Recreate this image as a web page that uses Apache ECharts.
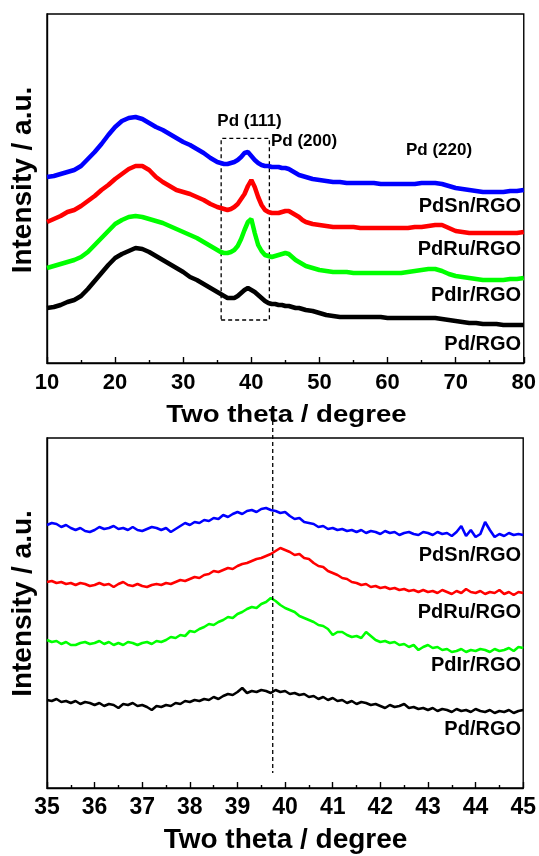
<!DOCTYPE html>
<html>
<head>
<meta charset="utf-8">
<script src="https://cdn.jsdelivr.net/npm/echarts@6.0.0/dist/echarts.min.js"></script>
<style>
  html, body { margin: 0; padding: 0; background: #ffffff; }
  #chart { width: 539px; height: 856px; }
</style>
</head>
<body>
<div id="chart"></div>
<script>
// ---- Wide-angle XRD scans (2θ = 10–80°) ----
const topX = [10,11,12,13,14,15,16,17,18,19,20,21,22,23,24,25,26,27,28,29,30,31,32,33,34,35,
  35.5,36,36.5,37,37.5,38,38.5,39,39.5,40,40.5,41,41.5,42,42.5,43,43.5,44,44.5,45,45.5,46,46.5,47,47.5,48,
  49,50,51,52,53,54,55,56,57,58,59,60,61,62,63,64,65,66,67,68,69,70,71,72,73,74,75,76,77,78,79,80];

const topPdSn = [186,187,189,191,193,197,204,211,219,228,236,242,245,246,244,240,236,233,229,225,221,218,214,210,205,201,
  200,199,199,200,201,203,206,210,211,207,203,200,198,197,197,196,196,196,195,195,194,192,190,188,187,186,
  184,183,182,181,181,180,180,180,180,180,179,179,179,179,179,179,180,180,180,179,177,175,174,173,172,171,171,171,171,172,172,173];

const topPdRu = [141,144,147,151,153,157,162,167,173,178,184,189,194,197,197,193,186,181,177,173,171,169,166,163,159,156,
  155,154,153,154,156,159,164,169,177,183,176,166,158,153,151,150,150,150,151,152,152,150,148,146,143,141,
  139,138,137,136,136,136,136,135,135,135,135,135,135,135,135,136,136,137,138,138,135,132,131,130,130,130,130,130,130,130,130,131];

const topPdIr = [95,97,99,101,103,106,111,118,125,132,139,143,146,147,146,144,142,140,137,134,131,128,125,121,117,113,
  111,110,110,111,113,117,124,133,141,144,130,118,112,108,107,106,107,108,109,110,109,106,103,101,99,97,
  95,93,92,91,91,91,90,90,90,90,90,90,90,90,91,92,93,94,94,92,89,87,86,85,84,83,83,83,83,84,84,85];

const topPd = [55,56,58,61,63,67,74,82,90,98,105,109,112,115,114,111,107,103,99,95,91,86,83,79,75,71,
  69,67,65,65,65,67,70,73,75,73,71,68,65,62,60,59,59,58,58,57,57,56,55,55,54,53,
  52,50,48,47,46,46,46,46,46,46,46,45,45,45,45,45,45,45,45,44,43,42,41,40,40,39,39,39,38,38,38,38];

// ---- Fine scans around the Pd(111) reflection (2θ = 35–45°) ----
const botX = [35.0,35.1,35.2,35.3,35.4,35.5,35.6,35.7,35.8,35.9,
  36.0,36.1,36.2,36.3,36.4,36.5,36.6,36.7,36.8,36.9,
  37.0,37.1,37.2,37.3,37.4,37.5,37.6,37.7,37.8,37.9,
  38.0,38.1,38.2,38.3,38.4,38.5,38.6,38.7,38.8,38.9,
  39.0,39.1,39.2,39.3,39.4,39.5,39.6,39.7,39.8,39.9,
  40.0,40.1,40.2,40.3,40.4,40.5,40.6,40.7,40.8,40.9,
  41.0,41.1,41.2,41.3,41.4,41.5,41.6,41.7,41.8,41.9,
  42.0,42.1,42.2,42.3,42.4,42.5,42.6,42.7,42.8,42.9,
  43.0,43.1,43.2,43.3,43.4,43.5,43.6,43.7,43.8,43.9,
  44.0,44.1,44.2,44.3,44.4,44.5,44.6,44.7,44.8,44.9,
  45.0];

const botPdSn = [263,265,264,261,263,260,258,260,257,256,
  258,261,259,260,262,259,260,258,261,258,
  257,259,261,260,258,260,256,259,262,265,
  263,266,265,268,267,270,269,273,271,274,
  276,274,277,278,276,279,280,278,277,275,
  276,272,269,270,266,265,264,261,262,259,
  260,258,259,257,258,256,258,255,257,256,
  254,257,255,256,253,255,256,254,253,256,
  255,253,256,254,255,252,256,262,252,258,
  251,254,266,258,251,254,252,255,253,254,
  253];

const botPdRu = [206,207,205,206,204,205,203,205,204,202,
  203,205,203,204,201,204,206,203,202,204,
  202,201,203,204,203,205,204,206,208,207,
  209,211,210,213,214,217,216,218,220,219,
  222,224,225,227,229,230,232,234,237,240,
  238,236,233,234,230,229,225,222,221,217,
  215,213,210,209,206,205,203,204,201,202,
  200,201,199,200,198,199,197,198,196,198,
  196,197,195,198,196,194,197,195,199,196,
  195,197,194,196,195,198,194,196,193,196,
  195];

const botPdIr = [148,146,147,144,146,143,143,145,146,144,
  145,147,144,146,143,145,143,146,145,143,
  145,146,144,147,146,148,151,150,153,152,
  157,156,159,161,164,163,166,168,171,170,
  174,176,179,181,180,184,186,190,187,183,
  180,178,176,172,170,168,166,163,162,159,
  153,156,156,153,151,152,150,156,152,148,
  146,147,145,146,143,144,141,143,138,141,
  143,140,141,138,139,136,137,139,136,138,
  137,139,138,136,139,137,138,140,137,141,
  140];

const botPd = [88,87,89,86,87,85,87,84,86,85,
  83,85,82,84,83,80,84,83,85,82,
  83,81,78,82,81,83,82,85,84,87,
  86,88,87,89,88,91,89,92,94,93,
  96,100,95,97,96,98,97,95,98,96,
  97,94,95,93,94,91,92,89,91,88,
  90,87,88,85,87,84,86,85,83,84,
  82,80,83,81,82,84,80,81,79,80,
  78,80,77,79,78,76,79,77,78,76,
  79,77,76,78,75,77,76,78,75,77,
  78];

const sampleNames = ['PdSn/RGO', 'PdRu/RGO', 'PdIr/RGO', 'Pd/RGO'];
const sampleColors = ['#0000ff', '#ff0000', '#00ff00', '#000000'];
const peakNames = ['Pd (111)', 'Pd (200)', 'Pd (220)'];
const boxRange = [35.57, 42.65];   // 2θ window of the fine scan
const boxIntensity = [43, 224.7];
const pd111Position = 39.74;       // reference line in the fine scan

const FONT = '"Liberation Sans", Arial, Helvetica, sans-serif';
const zip = (xs, ys) => xs.map((x, i) => [x, ys[i]]);

function xAxisFor(gridIndex, min, max, interval, labelSize, margin) {
  return {
    gridIndex, type: 'value', min, max, interval,
    axisLine: { show: true, onZero: false, lineStyle: { color: '#000', width: 1.4 } },
    axisTick: { show: true, inside: true, length: 6, lineStyle: { color: '#000', width: 1.4 } },
    minorTick: { show: true, splitNumber: 2, length: 3, lineStyle: { color: '#000', width: 1.4 } },
    axisLabel: { fontSize: labelSize, fontWeight: 'bold', color: '#000', fontFamily: FONT, margin },
    splitLine: { show: false }, minorSplitLine: { show: false }
  };
}
function yAxisFor(gridIndex, max) {
  return {
    gridIndex, type: 'value', min: 0, max,
    axisLine: { show: true, lineStyle: { color: '#000', width: 1.4 } },
    axisTick: { show: false }, axisLabel: { show: false }, splitLine: { show: false }
  };
}

const topSets = [topPdSn, topPdRu, topPdIr, topPd];
const botSets = [botPdSn, botPdRu, botPdIr, botPd];

const series = [];
topSets.forEach((ys, i) => {
  series.push({
    type: 'line', xAxisIndex: 0, yAxisIndex: 0, name: sampleNames[i],
    data: zip(topX, ys), showSymbol: false, symbol: 'none',
    lineStyle: { color: sampleColors[i], width: 4.5 }, z: 3
  });
});
botSets.forEach((ys, i) => {
  series.push({
    type: 'line', xAxisIndex: 1, yAxisIndex: 1, name: sampleNames[i],
    data: zip(botX, ys), showSymbol: false, symbol: 'none',
    lineStyle: { color: sampleColors[i], width: 2.6 }, z: 3
  });
});
// dashed window around the Pd(111)/(200) region
series[3].markArea = {
  silent: true,
  label: { show: false },
  itemStyle: { color: 'rgba(0,0,0,0)', borderColor: '#000', borderWidth: 1.3, borderType: [4, 3] },
  data: [[{ xAxis: boxRange[0], yAxis: boxIntensity[0] }, { xAxis: boxRange[1], yAxis: boxIntensity[1] }]]
};

const chart = echarts.init(document.getElementById('chart'), null, { renderer: 'canvas' });
chart.setOption({
  animation: false,
  backgroundColor: '#ffffff',
  grid: [
    { left: 47, top: 14, width: 477, height: 349, show: true, borderColor: '#000', borderWidth: 1.4, backgroundColor: 'transparent' },
    { left: 47, top: 438, width: 478, height: 350, show: true, borderColor: '#000', borderWidth: 1.4, backgroundColor: 'transparent' }
  ],
  xAxis: [xAxisFor(0, 10, 80, 10, 22, 9), xAxisFor(1, 35, 45, 1, 23, 8)],
  yAxis: [yAxisFor(0, 349), yAxisFor(1, 350)],
  series
});

function txt(text, x, y, size, opts) {
  const o = opts || {};
  return {
    type: 'text', x, y, rotation: o.rotation || 0, scaleX: o.scaleX || 1, z: 10,
    style: {
      text, font: 'bold ' + size + 'px ' + FONT, fill: '#000',
      align: o.align || 'center', verticalAlign: 'middle',
      textAlign: o.align || 'center', textVerticalAlign: 'middle'
    }
  };
}

const lineX = chart.convertToPixel({ xAxisIndex: 1 }, pd111Position);
const labelYTop = [206, 249.5, 295.5, 344.5];
const labelYBot = [555, 612.5, 665.5, 729.5];
const elements = [
  txt('Two theta / degree', 286.5, 415, 24, { scaleX: 1.15 }),
  txt('Two theta / degree', 285.5, 840, 28),
  txt('Intensity / a.u.', 23, 180, 28, { rotation: Math.PI / 2 }),
  txt('Intensity / a.u.', 23, 603.5, 28, { rotation: Math.PI / 2 }),
  txt(peakNames[0], 249.5, 121, 17),
  txt(peakNames[1], 304, 141, 17),
  txt(peakNames[2], 439, 150, 17),
  {
    type: 'line', z: 9,
    shape: { x1: lineX, y1: 421, x2: lineX, y2: 773 },
    style: { stroke: '#000', lineWidth: 1.3, lineDash: [4, 3] }
  }
];
sampleNames.forEach((name, i) => {
  elements.push(txt(name, 521, labelYTop[i], 20, { align: 'right' }));
  elements.push(txt(name, 521, labelYBot[i], 20, { align: 'right' }));
});
chart.setOption({ graphic: { elements } });
</script>
</body>
</html>
